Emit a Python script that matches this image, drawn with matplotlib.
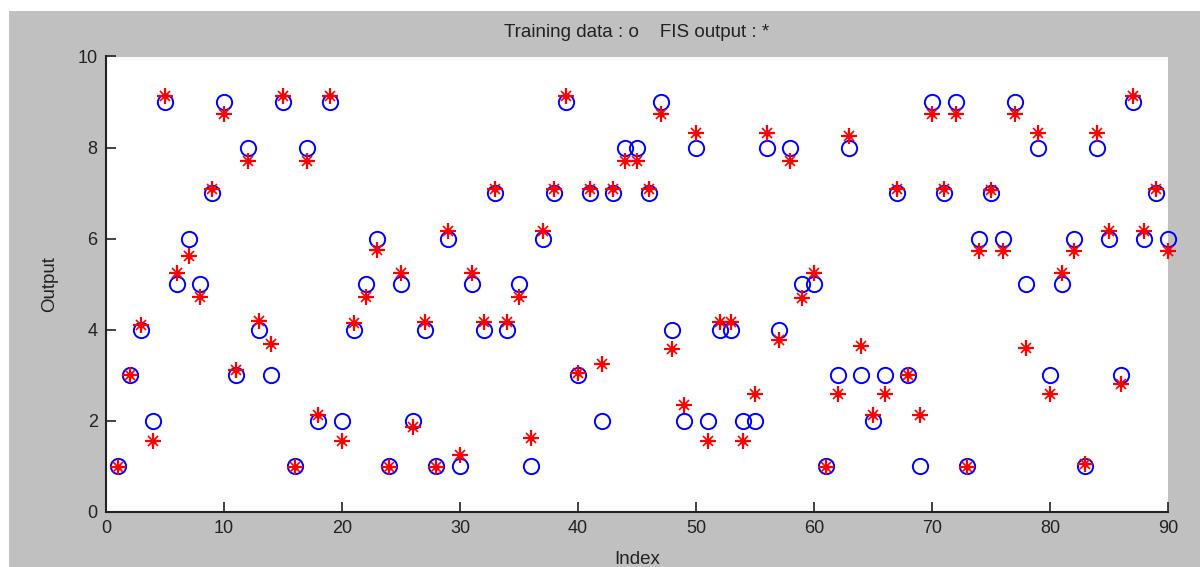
import matplotlib
matplotlib.use("Agg")
import matplotlib.pyplot as plt
from matplotlib.patches import Rectangle

plt.rcParams['font.family'] = ['Liberation Sans Narrow', 'Liberation Sans', 'DejaVu Sans']

index = list(range(1, 91))
training = [1, 3, 4, 2, 9, 5, 6, 5, 7, 9,
            3, 8, 4, 3, 9, 1, 8, 2, 9, 2,
            4, 5, 6, 1, 5, 2, 4, 1, 6, 1,
            5, 4, 7, 4, 5, 1, 6, 7, 9, 3,
            7, 2, 7, 8, 8, 7, 9, 4, 2, 8,
            2, 4, 4, 2, 2, 8, 4, 8, 5, 5,
            1, 3, 8, 3, 2, 3, 7, 3, 1, 9,
            7, 9, 1, 6, 7, 6, 9, 5, 8, 3,
            5, 6, 1, 8, 6, 3, 9, 6, 7, 6]
fis = [0.98, 3.0, 4.1, 1.56, 9.14, 5.25, 5.61, 4.71, 7.1, 8.74,
       3.11, 7.7, 4.2, 3.68, 9.14, 0.99, 7.7, 2.13, 9.14, 1.56,
       4.14, 4.71, 5.75, 0.98, 5.25, 1.87, 4.17, 0.98, 6.18, 1.25,
       5.25, 4.17, 7.1, 4.17, 4.71, 1.63, 6.18, 7.1, 9.14, 3.05,
       7.1, 3.24, 7.1, 7.7, 7.7, 7.1, 8.74, 3.57, 2.36, 8.32,
       1.56, 4.17, 4.17, 1.56, 2.59, 8.32, 3.77, 7.7, 4.69, 5.25,
       0.99, 2.59, 8.25, 3.65, 2.13, 2.59, 7.1, 3.0, 2.13, 8.74,
       7.1, 8.74, 0.98, 5.73, 7.06, 5.73, 8.74, 3.61, 8.32, 2.59,
       5.25, 5.73, 1.05, 8.32, 6.18, 2.82, 9.14, 6.18, 7.1, 5.73]
title_text = "Training data : o    FIS output : *"
xticks = [0, 10, 20, 30, 40, 50, 60, 70, 80, 90]
yticks = [0, 2, 4, 6, 8, 10]

fig = plt.figure(figsize=(12, 5.67), dpi=100)
fig.patch.set_facecolor('white')
fig.patches.append(Rectangle((9/1200, 0), 1 - 9/1200, 1 - 11/567,
                             transform=fig.transFigure, facecolor='#c0c0c0',
                             edgecolor='none', zorder=-10))

ax = fig.add_axes([106/1200, 1 - 512/567, (1168 - 106)/1200, (512 - 56.5)/567])
ax.set_facecolor('white')

ax.plot(index, training, linestyle='none', marker='o', markersize=11,
        markerfacecolor='none', markeredgecolor='#0000ff', markeredgewidth=1.4,
        clip_on=False)
ax.plot(index, fis, linestyle='none', marker='+', markersize=11,
        markeredgecolor='#ff0000', markeredgewidth=1.6, clip_on=False)
ax.plot(index, fis, linestyle='none', marker='x', markersize=6.5,
        markeredgecolor='#ff0000', markeredgewidth=1.2, clip_on=False)
ax.plot(index, fis, linestyle='none', marker='o', markersize=3.5,
        markerfacecolor='#ff0000', markeredgecolor='#ff0000', clip_on=False)

ax.set_xlim(0, 90)
ax.set_ylim(0, 10)
ax.set_xticks(xticks)
ax.set_yticks(yticks)
ax.tick_params(direction='in', length=7, width=1.2, labelsize=13, pad=6,
               colors='#222222')
for s in ['top', 'right']:
    ax.spines[s].set_visible(False)
for s in ['left', 'bottom']:
    ax.spines[s].set_linewidth(1.5)
    ax.spines[s].set_color('#222222')

ax.set_title(title_text, fontsize=13.5, pad=14, color='#222222')
ax.set_xlabel('Index', fontsize=13.5, labelpad=10, color='#222222')
ax.set_ylabel('Output', fontsize=13.5, labelpad=14, color='#222222')

fig.savefig('out.png', dpi=100, facecolor=fig.get_facecolor())
